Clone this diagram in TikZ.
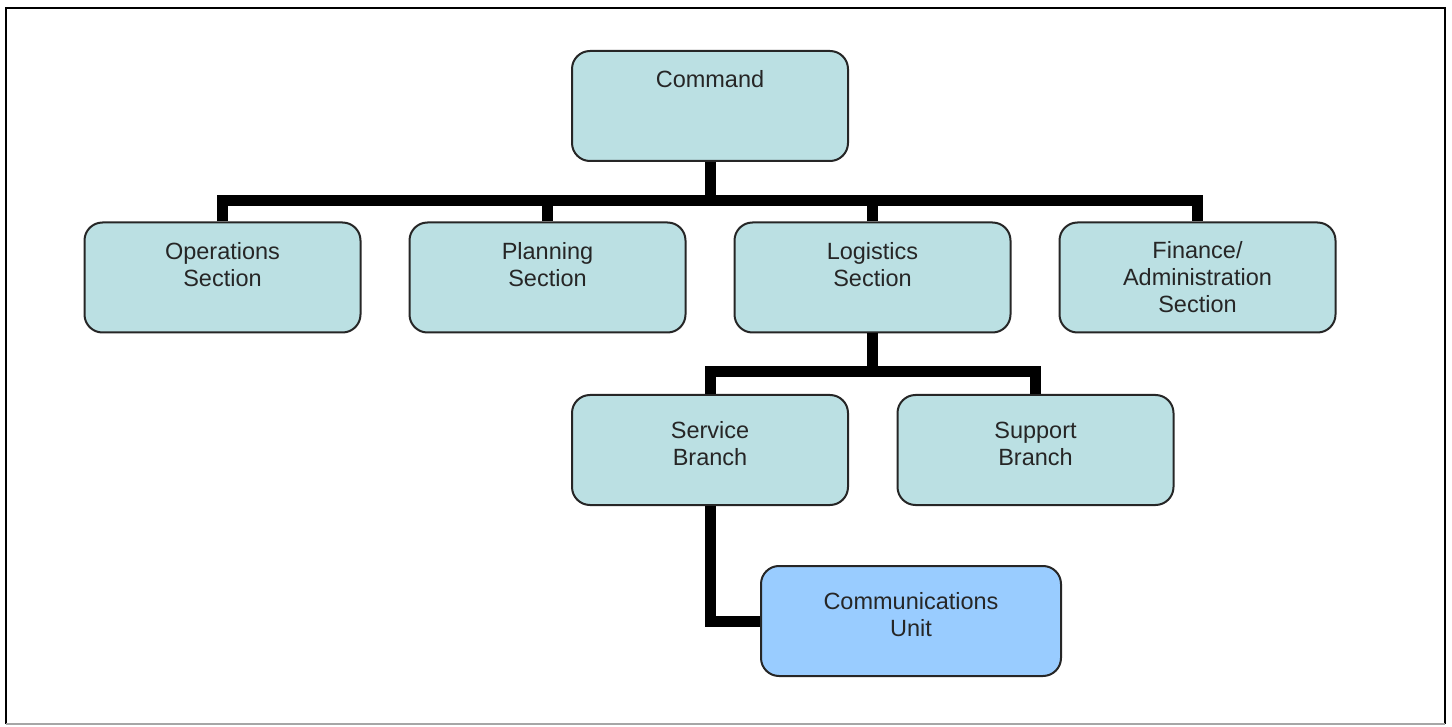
\documentclass[tikz,border=0pt]{standalone}
\usepackage{fontspec}
\setmainfont{Liberation Sans}
\definecolor{secfill}{HTML}{BBE0E3}
\definecolor{unitfill}{HTML}{99CCFF}
\tikzset{
  box/.style = {draw = black!85, line width = 2, fill = secfill,
    rounded corners = 18, minimum width = 276, minimum height = 110,
    inner sep = 0, align = center, text = black!85,
    font = \fontsize{23.5}{27}\selectfont},
  lift/.style = {text depth = 13pt},
  bar/.style = {line width = 11, line join = miter},
}
\newcommand{\blankline}{\phantom{X}}
\begin{document}
\begin{tikzpicture}[x = 1pt, y = -1pt]
    \useasboundingbox (0, 0) rectangle (1452, 727);
    \draw [line width = 2] (6, 724) -- (6, 8) -- (1445, 8) -- (1445, 724);
    \draw [line width = 2, draw = black!35] (6, 724) -- (1445, 724);

    \node [box] (cmd) at (710, 106) {Command\\\blankline\\\blankline};

    \node [box] (ops) at (222.5, 277.5) {Operations\\Section\\\blankline};
    \node [box] (plan) at (547.5, 277.5) {Planning\\Section\\\blankline};
    \node [box] (logi) at (872.5, 277.5) {Logistics\\Section\\\blankline};
    \node [box] (fin) at (1197.5, 277.5) {Finance/\\Administration\\Section};

    \node [box, lift] (svc) at (710, 450) {Service\\Branch};
    \node [box, lift] (sup) at (1035.5, 450) {Support\\Branch};

    \node [box, lift, fill = unitfill, minimum width = 300] (comm) at (911, 621) {Communications\\Unit};

    \draw [bar] (cmd.south) -- ++(0, 39) coordinate (cbus);
    \draw [bar] (ops.north) |- (cbus) -| (fin.north);
    \draw [bar] (plan.north) -- (plan.north |- cbus);
    \draw [bar] (logi.north) -- (logi.north |- cbus);

    \draw [bar] (logi.south) -- ++(0, 38) coordinate (lbus);
    \draw [bar] (svc.north) |- (lbus) -| (sup.north);

    \draw [bar] (svc.south) |- (comm.west);
  \end{tikzpicture}
\end{document}
